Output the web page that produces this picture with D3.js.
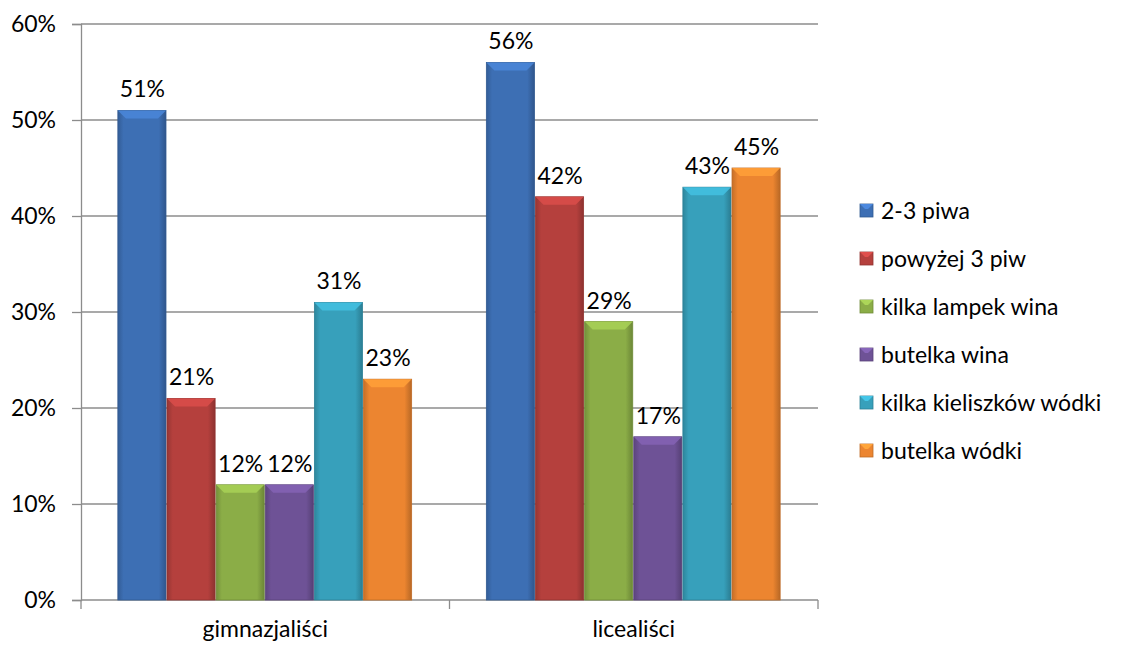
<!DOCTYPE html>
<html>
<head>
<meta charset="utf-8">
<script src="https://cdn.jsdelivr.net/npm/d3@7"></script>
<style>
  body { margin: 0; background: #fff; }
  text { font-family: Lato, "Open Sans", sans-serif; fill: #000; }
</style>
</head>
<body>
<div id="chart"></div>
<script>
// data
var categories = ["gimnazjaliści", "licealiści"];
var seriesNames = ["2-3 piwa", "powyżej 3 piw", "kilka lampek wina", "butelka wina", "kilka kieliszków wódki", "butelka wódki"];
var gimnazjalisci = [51, 21, 12, 12, 31, 23];
var licealisci = [56, 42, 29, 17, 43, 45];
var yTicks = [0, 10, 20, 30, 40, 50, 60];
var colors = ["#3d6fb4", "#b5403d", "#8bad47", "#6e5296", "#37a0bb", "#ec8530"];

var values = [gimnazjalisci, licealisci];

var width = 1121, height = 646;
var margin = {top: 24, left: 81, right: 303, bottom: 46};
var plotW = width - margin.left - margin.right,
    plotH = height - margin.top - margin.bottom;
var fontSize = "23px";

var svg = d3.select("#chart").append("svg")
    .attr("width", width)
    .attr("height", height);

var defs = svg.append("defs");
colors.forEach(function(c, i) {
    var g = defs.append("linearGradient").attr("id", "grad" + i)
        .attr("x1", "0").attr("x2", "1").attr("y1", "0").attr("y2", "0");
    g.append("stop").attr("offset", "0%").attr("stop-color", d3.color(c).darker(0.5));
    g.append("stop").attr("offset", "12%").attr("stop-color", c);
    g.append("stop").attr("offset", "85%").attr("stop-color", c);
    g.append("stop").attr("offset", "100%").attr("stop-color", d3.color(c).darker(0.7));
});

var g = svg.append("g").attr("transform", "translate(" + margin.left + "," + margin.top + ")");

var y = d3.scaleLinear().domain([0, 60]).range([plotH, 0]);
var x0 = d3.scaleBand().domain(categories).range([0, plotW]).paddingInner(0.2).paddingOuter(0.1);
var x1 = d3.scaleBand().domain(seriesNames).range([0, x0.bandwidth()]);

// gridlines
g.selectAll(".grid").data(yTicks.filter(function(d) { return d > 0; }))
  .enter().append("line")
    .attr("x1", 0).attr("x2", plotW)
    .attr("y1", function(d) { return y(d); })
    .attr("y2", function(d) { return y(d); })
    .attr("stroke", "#8c8c8c").attr("stroke-width", 1.3);

// y axis
var yAxis = g.append("g")
    .call(d3.axisLeft(y).tickValues(yTicks).tickSize(9).tickPadding(16)
        .tickFormat(function(d) { return d + "%"; }));
yAxis.select(".domain").attr("stroke", "#8c8c8c").attr("stroke-width", 1.3);
yAxis.selectAll(".tick line").attr("stroke", "#8c8c8c").attr("stroke-width", 1.3);
yAxis.selectAll(".tick text").style("font-size", fontSize).style("font-family", "Lato").attr("fill", "#000");

// x axis with tick marks at category boundaries
var xAxis = g.append("g").attr("transform", "translate(0," + plotH + ")");
xAxis.append("line").attr("x1", 0).attr("x2", plotW)
    .attr("stroke", "#8c8c8c").attr("stroke-width", 1.3);
[0, plotW / 2, plotW].forEach(function(p) {
    xAxis.append("line").attr("x1", p).attr("x2", p).attr("y1", 0).attr("y2", 9)
        .attr("stroke", "#8c8c8c").attr("stroke-width", 1.3);
});
xAxis.selectAll(".cat").data(categories).enter().append("text")
    .attr("x", function(d) { return x0(d) + x0.bandwidth() / 2; })
    .attr("y", 37)
    .attr("text-anchor", "middle")
    .style("font-size", fontSize)
    .text(function(d) { return d; });

// bars
var groups = g.selectAll(".grp").data(categories).enter().append("g")
    .attr("transform", function(d) { return "translate(" + x0(d) + ",0)"; });

groups.each(function(cat, ci) {
    var grp = d3.select(this);
    var rows = seriesNames.map(function(s, si) { return {name: s, v: values[ci][si], i: si}; });
    var bars = grp.selectAll(".bar").data(rows).enter().append("g");
    bars.append("rect")
        .attr("x", function(d) { return x1(d.name); })
        .attr("y", function(d) { return y(d.v); })
        .attr("width", x1.bandwidth() - 1)
        .attr("height", function(d) { return plotH - y(d.v); })
        .attr("fill", function(d) { return "url(#grad" + d.i + ")"; })
        .attr("stroke", function(d) { return d3.color(colors[d.i]).darker(0.6); })
        .attr("stroke-width", 0.8);
    // top bevel
    bars.append("path")
        .attr("d", function(d) {
            var xl = x1(d.name), xr = xl + x1.bandwidth() - 1, yt = y(d.v), b = 8;
            return "M" + xl + "," + yt + "L" + xr + "," + yt + "L" + (xr - b) + "," + (yt + b) +
                   "L" + (xl + b) + "," + (yt + b) + "Z";
        })
        .attr("fill", function(d) { return d3.color(colors[d.i]).brighter(0.5); })
        .attr("opacity", 0.9);
    bars.append("text")
        .attr("x", function(d) { return x1(d.name) + x1.bandwidth() / 2; })
        .attr("y", function(d) { return y(d.v) - 13; })
        .attr("text-anchor", "middle")
        .style("font-size", fontSize)
        .text(function(d) { return d.v + "%"; });
});

// legend
var legend = svg.append("g").attr("transform", "translate(860,204)");
var items = legend.selectAll(".item").data(seriesNames).enter().append("g")
    .attr("transform", function(d, i) { return "translate(0," + i * 48 + ")"; });
items.append("rect").attr("width", 13).attr("height", 13)
    .attr("fill", function(d, i) { return colors[i]; })
    .attr("stroke", function(d, i) { return d3.color(colors[i]).darker(0.6); })
    .attr("stroke-width", 0.8);
items.append("path").attr("d", "M0,0L13,0L8,5L5,5Z")
    .attr("fill", function(d, i) { return d3.color(colors[i]).brighter(0.6); });
items.append("text").attr("x", 21).attr("y", 15)
    .style("font-size", fontSize)
    .text(function(d) { return d; });
</script>
</body>
</html>
